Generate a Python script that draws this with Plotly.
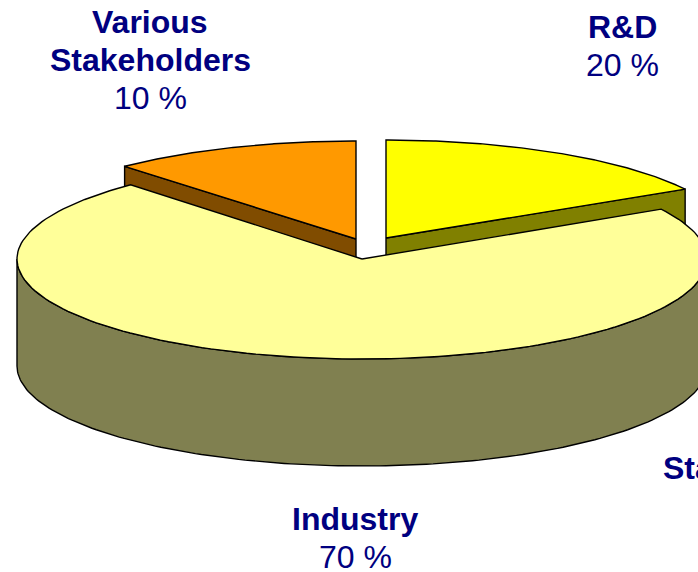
import numpy as np
import plotly.graph_objects as go

# Data
categories = ["R&D", "Industry", "Various Stakeholders"]
printed_percent = [20, 70, 10]          # what the labels say
drawn_share = [16.7, 71.6, 11.7]        # slice sizes as actually drawn

top_colors = ["#FFFF00", "#FFFF99", "#FF9900"]
side_colors = ["#808000", "#808050", "#804C00"]
text_color = "#000080"
apex_x = [386, 362, 356]
apex_y = [238, 259, 239]
radius_x = [345, 345, 345]
radius_y = [98, 100, 98]

depth = 107
W, H = 698, 572

starts = np.cumsum([0] + drawn_share[:-1]) * 3.6
ends = np.cumsum(drawn_share) * 3.6


def arc(i, a0, a1, dy=0.0):
    t = np.radians(np.linspace(a0, a1, 160))
    return apex_x[i] + radius_x[i] * np.sin(t), apex_y[i] - radius_y[i] * np.cos(t) + dy


fig = go.Figure()


def poly(x, y, fill):
    fig.add_trace(go.Scatter(
        x=list(x), y=list(y), mode="lines", fill="toself", fillcolor=fill,
        line=dict(color="#000000", width=1.4), hoverinfo="skip", showlegend=False,
    ))


def wedge_top(i):
    ax, ay = arc(i, starts[i], ends[i])
    poly([apex_x[i], *ax, apex_x[i]], [apex_y[i], *ay, apex_y[i]], top_colors[i])


def cut_side(i, angle):
    ax, ay = arc(i, angle, angle)
    x = [apex_x[i], ax[0], ax[0], apex_x[i], apex_x[i]]
    y = [apex_y[i], ay[0], ay[0] + depth, apex_y[i] + depth, apex_y[i]]
    poly(x, y, side_colors[i])


# Back slices first, the big slice covers their lower parts
cut_side(0, ends[0])
wedge_top(0)
cut_side(2, starts[2])
wedge_top(2)

# Big slice: rim from right extreme round the front to left extreme
ux, uy = arc(1, 90, 270)
lx, ly = arc(1, 270, 90, depth)
poly([*ux, *lx, ux[0]], [*uy, *ly, uy[0]], side_colors[1])
wedge_top(1)

label_lines = [
    ("Various", 150, 22, True),
    ("Stakeholders", 150, 60, True),
    (f"{printed_percent[2]} %", 150, 98, False),
    ("R&D", 622, 27, True),
    (f"{printed_percent[0]} %", 622, 65, False),
    ("Industry", 355, 519, True),
    (f"{printed_percent[1]} %", 355, 557, False),
]
font = dict(family="Liberation Sans, Arial", size=32, color=text_color)
annotations = [
    dict(x=x, y=y, xref="x", yref="y", text=f"<b>{t}</b>" if b else t, showarrow=False,
         xanchor="center", yanchor="middle", font=font)
    for t, x, y, b in label_lines
]
annotations.append(dict(x=665, y=468, xref="x", yref="y", text="<b>Standards</b>", showarrow=False,
                        xanchor="left", yanchor="middle", xshift=-4, font=font))

fig.update_layout(
    width=W, height=H, margin=dict(l=0, r=0, t=0, b=0),
    paper_bgcolor="#FFFFFF", plot_bgcolor="#FFFFFF", showlegend=False,
    xaxis=dict(range=[0, W], visible=False, fixedrange=True),
    yaxis=dict(range=[H, 0], visible=False, fixedrange=True),
    annotations=annotations,
)
fig.write_html("out.html", config={"displayModeBar": False},
               post_script="document.body.style.margin='0';document.body.style.overflow='hidden';")
